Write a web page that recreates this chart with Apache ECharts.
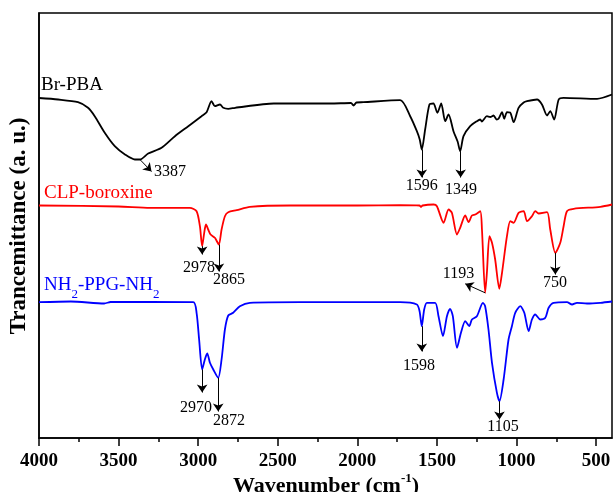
<!DOCTYPE html>
<html>
<head>
<meta charset="utf-8">
<script src="https://cdn.jsdelivr.net/npm/echarts@6/dist/echarts.min.js"></script>
<style>html,body{margin:0;padding:0;background:#fff}#c{width:613px;height:492px}</style>
</head>
<body>
<div id="c"></div>
<script>
// Wavenumber (cm-1), transmittance (a.u., offset stacked)
var brPBA = [[4000,340],[3880,338.5],[3755,335.8],[3692,330.2],[3650,321.8],[3587,305.2],[3524,291.8],[3460,283.5],[3398,278.5],[3366,278.5],[3314,284.5],[3230,290.2],[3146,301.8],[3062,311.8],[2979,321.8],[2947,325.8],[2916,336.8],[2895,331.8],[2863,333.5],[2842,330.2],[2811,329.2],[2768,330.2],[2525,334.5],[2171,334.5],[2040,335],[2024,332.5],[2005,335.5],[1962,335.8],[1731,337.8],[1668,321.8],[1626,306.8],[1608,298.5],[1595,288.5],[1574,308.5],[1547,333.5],[1522,334.5],[1497,325.2],[1473,334.5],[1448,316.8],[1427,323.5],[1396,306.8],[1370,296.5],[1354,286.8],[1333,301.8],[1291,311.8],[1249,316.8],[1228,318.5],[1218,316.5],[1186,321.8],[1165,321],[1144,322.5],[1125,318.5],[1113,319.2],[1091,325.8],[1077,319.2],[1060,325.8],[1040,325.5],[1018,315.8],[987,330.2],[955,335.5],[934,336.8],[871,338.5],[840,333.5],[808,322.5],[788,326.8],[763,318.5],[735,338.5],[704,340.2],[494,339.2],[400,343.5]];
var clpBoroxine = [[4000,232.5],[3500,231.5],[3303,230.2],[3052,230.2],[3010,226.8],[2989,211.8],[2975,191.8],[2962,205.2],[2951,213.5],[2937,208.5],[2922,203.5],[2895,200.2],[2870,193.5],[2853,208.5],[2832,221.8],[2811,225.8],[2758,227.8],[2675,231.2],[2423,232.5],[2000,232.5],[1731,232.8],[1610,232.5],[1600,231],[1590,232.5],[1521,233.5],[1500,231.8],[1458,215.2],[1427,228.5],[1406,225.2],[1374,203.5],[1354,210.2],[1322,222.5],[1301,215.8],[1280,222.5],[1259,223.5],[1228,226.8],[1217,208.5],[1197,145.2],[1186,165.2],[1170,201.8],[1154,195.2],[1134,178.5],[1108,149.2],[1091,165.2],[1060,201.8],[1039,216.8],[1018,215.2],[987,225.2],[955,226.8],[934,216.8],[903,221.8],[882,226.8],[861,224.5],[808,225.8],[788,208.5],[756,185.2],[725,195.2],[704,211.8],[683,226.8],[641,229.2],[473,231.2],[400,233.5]];
var nh2PPG = [[4000,135.8],[3800,136.5],[3590,134.5],[3550,136],[3031,135.8],[3010,125.2],[2994,98.5],[2975,68.5],[2958,78.5],[2943,84.5],[2926,75.2],[2905,68.5],[2874,60.2],[2853,78.5],[2832,108.5],[2811,122.5],[2780,125.2],[2738,131.8],[2675,135.2],[2360,135.8],[1731,135.8],[1626,133.5],[1609,126.8],[1595,111.8],[1580,128.5],[1563,135.2],[1511,135.2],[1490,121.8],[1462,101.8],[1437,121.8],[1417,129.2],[1400,121.8],[1374,90.2],[1349,105.2],[1322,116.8],[1297,111.8],[1280,118.5],[1249,121.8],[1211,135.2],[1197,131.8],[1176,108.5],[1154,75.2],[1123,45.2],[1107,36.8],[1081,58.5],[1050,98.5],[1029,111.8],[1008,125.2],[976,131.8],[951,125.2],[924,106.8],[903,118.5],[882,123.5],[851,118.5],[819,120.2],[798,130.2],[767,135.2],[683,135.8],[651,133.5],[620,135.2],[557,134.5],[473,135.2],[400,136.5]];

var majorTicks = [4000,3500,3000,2500,2000,1500,1000,500];
var minorTicks = [3750,3250,2750,2250,1750,1250,750];

// peak annotations: label, arrow start [x,y], arrow end [x,y], label position [x,y]
var peaksBr = [
  ['3387',[3366,278.5],[3293,266.5],[3177,266.5]],
  ['1596',[1595,288.5],[1595,260.5],[1595,252.5]],
  ['1349',[1351,286.8],[1351,260.5],[1349,248.5]]
];
var peaksCLP = [
  ['2978',[2975,191.8],[2975,183.5],[2995,170.5]],
  ['2865',[2870,193.5],[2870,166.5],[2807,158.5]],
  ['1193',[1197,145.2],[1322,154.2],[1364,164.5]],
  ['750',[756,185.2],[756,163.5],[758,155.5]]
];
var peaksNH2 = [
  ['2970',[2975,68.5],[2975,45.5],[3014,30.5]],
  ['2872',[2874,60.2],[2874,26.5],[2807,16.8]],
  ['1598',[1595,111.8],[1595,86.5],[1612,72.5]],
  ['1105',[1107,36.8],[1107,18.5],[1085,11.5]]
];

var serif = '"Liberation Serif","Times New Roman",serif';

function marks(peaks) {
  return {
    markLine: {
      silent: true, animation: false,
      symbol: ['none','arrow'], symbolSize: 8,
      lineStyle: {color: '#000', width: 1, type: 'solid'},
      label: {show: false},
      data: peaks.map(function(p){ return [{coord: p[1]}, {coord: p[2]}]; })
    },
    markPoint: {
      silent: true, animation: false,
      symbol: 'circle', symbolSize: 1,
      itemStyle: {color: 'rgba(0,0,0,0)'},
      label: {show: true, position: 'inside', color: '#000', fontFamily: serif, fontSize: 16,
              formatter: function(d){ return d.name; }},
      data: peaks.map(function(p){ return {name: p[0], coord: p[3]}; })
    }
  };
}

function lineSeries(name, data, color, peaks) {
  var s = {
    name: name, type: 'line', data: data, showSymbol: false, smooth: 0.25,
    lineStyle: {color: color, width: 1.8}, itemStyle: {color: color}, z: 3
  };
  var m = marks(peaks);
  s.markLine = m.markLine; s.markPoint = m.markPoint;
  return s;
}

var chart = echarts.init(document.getElementById('c'), null, {renderer: 'canvas'});
chart.setOption({
  animation: false,
  backgroundColor: '#fff',
  grid: {left: 39, right: 1, top: 13, bottom: 54, show: true, borderColor: '#000', borderWidth: 1.5,
         containLabel: false, outerBoundsMode: 'none'},
  xAxis: [{
    type: 'value', min: 400, max: 4000, inverse: true, position: 'bottom',
    axisLine: {show: true, lineStyle: {color: '#000', width: 1.5}},
    axisTick: {show: true, inside: false, length: 8, customValues: majorTicks, lineStyle: {color: '#000', width: 1.5}},
    axisLabel: {show: true, customValues: majorTicks, margin: 14, color: '#000', fontFamily: serif, fontWeight: 'bold', fontSize: 19,
                hideOverlap: false, formatter: function(v){ return String(v); }},
    splitLine: {show: false}
  }, {
    type: 'value', min: 400, max: 4000, inverse: true, position: 'bottom', offset: 0,
    axisLine: {show: false},
    axisTick: {show: true, inside: false, length: 4, customValues: minorTicks, lineStyle: {color: '#000', width: 1.5}},
    axisLabel: {show: false},
    splitLine: {show: false}
  }],
  yAxis: {
    type: 'value', min: 0, max: 425,
    axisLine: {show: true, lineStyle: {color: '#000', width: 1.5}},
    axisTick: {show: false}, axisLabel: {show: false}, splitLine: {show: false}
  },
  series: [
    lineSeries('Br-PBA', brPBA, '#000000', peaksBr),
    lineSeries('CLP-boroxine', clpBoroxine, '#ff0000', peaksCLP),
    lineSeries('NH2-PPG-NH2', nh2PPG, '#0000ff', peaksNH2)
  ],
  graphic: [
    {type: 'text', left: 41, top: 76, style: {text: 'Br-PBA', fill: '#000', fontFamily: serif, fontSize: 19}},
    {type: 'text', left: 44, top: 184, style: {text: 'CLP-boroxine', fill: '#ff0000', fontFamily: serif, fontSize: 19}},
    {type: 'text', left: 44, top: 276, style: {
      text: '{a|NH}{s|2}{a|-PPG-NH}{s|2}', fill: '#0000ff',
      rich: {
        a: {fontFamily: serif, fontSize: 19, fill: '#0000ff', lineHeight: 24, verticalAlign: 'top'},
        s: {fontFamily: serif, fontSize: 13, fill: '#0000ff', lineHeight: 24, padding: [12,0,0,0], verticalAlign: 'top'}
      }}},
    {type: 'text', x: 326, y: 484, style: {
      text: '{a|Wavenumber (cm}{s|-1}{a|)}', align: 'center', verticalAlign: 'middle',
      rich: {
        a: {fontFamily: serif, fontSize: 22, fontWeight: 'bold', fill: '#000', lineHeight: 26, verticalAlign: 'bottom'},
        s: {fontFamily: serif, fontSize: 13, fontWeight: 'bold', fill: '#000', lineHeight: 26, padding: [0,0,12,0], verticalAlign: 'bottom'}
      }}},
    {type: 'text', x: 19, y: 226, rotation: Math.PI / 2, style: {
      text: 'Trancemittance (a. u.)', align: 'center', verticalAlign: 'middle',
      fontFamily: serif, fontSize: 23, fontWeight: 'bold', fill: '#000'}}
  ]
});
</script>
</body>
</html>
